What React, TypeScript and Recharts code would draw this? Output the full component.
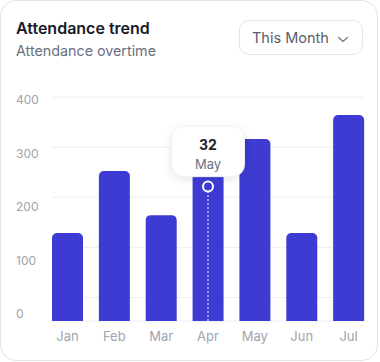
import { Bar, BarChart, CartesianGrid, ReferenceDot, ReferenceLine, XAxis, YAxis } from "recharts";

const months = ["Jan", "Feb", "Mar", "Apr", "May", "Jun", "Jul"];
const attendance = [157, 268, 189, 270, 325, 157, 368];
const yTicks = [0, 100, 200, 300, 400];

// hovered point shown with the tooltip
const activeMonth = "Apr";
const activeLevel = 240;
const tooltipValue = "32";
const tooltipLabel = "May";

const data = months.map((month, i) => ({ month, attendance: attendance[i] }));

const BAR = "#3d3bd1";
const FONT = "Inter, 'Noto Sans', sans-serif";

function YTick({ y, payload }: { y?: number; payload?: { value: number } }) {
  return (
    <text x={16} y={y} dy="0.36em" textAnchor="start" fill="#a0a4ad" fontSize={12} fontFamily={FONT}>
      {payload?.value}
    </text>
  );
}

function Marker({ cx = 0, cy = 0 }: { cx?: number; cy?: number }) {
  return (
    <g>
      <filter id="tipShadow" x="-40%" y="-40%" width="180%" height="180%">
        <feDropShadow dx="0" dy="2" stdDeviation="4" floodColor="#1f2333" floodOpacity="0.10" />
      </filter>
      <circle cx={cx} cy={cy} r={5} fill={BAR} stroke="#fff" strokeWidth={2} />
      <rect
        x={cx - 36.5}
        y={cy - 60}
        width={73}
        height={50}
        rx={12}
        fill="#fff"
        stroke="#f0f1f4"
        filter="url(#tipShadow)"
      />
      <text x={cx} y={cy - 36.3} textAnchor="middle" fontSize={14} fontWeight={700} fill="#1f2230" fontFamily={FONT}>
        {tooltipValue}
      </text>
      <text x={cx} y={cy - 17.7} textAnchor="middle" fontSize={13} fill="#6b7080" fontFamily={FONT}>
        {tooltipLabel}
      </text>
    </g>
  );
}

export default function App() {
  return (
    <div style={{ position: "relative", width: 380, height: 362, fontFamily: FONT }}>
      <style>{`body{margin:0}`}</style>
      <div
        style={{
          position: "absolute",
          left: 0,
          top: 0,
          width: 378,
          height: 361,
          boxSizing: "border-box",
          border: "1px solid #e4e5e9",
          borderRadius: 16,
          background: "#fff",
        }}
      />
      <div
        style={{
          position: "absolute",
          left: 16,
          top: 18,
          fontSize: 16,
          lineHeight: "20px",
          fontWeight: 600,
          color: "#171a26",
        }}
      >
        Attendance trend
      </div>
      <div style={{ position: "absolute", left: 16, top: 41.5, fontSize: 14.3, lineHeight: "18px", color: "#6b7080" }}>
        Attendance overtime
      </div>
      <div
        style={{
          position: "absolute",
          left: 239,
          top: 20,
          width: 124,
          height: 35,
          boxSizing: "border-box",
          border: "1px solid #e4e5e9",
          borderRadius: 10,
          display: "flex",
          alignItems: "center",
          paddingLeft: 12,
          fontSize: 14.5,
          color: "#585d6b",
        }}
      >
        This Month
        <svg width={12} height={8} style={{ position: "absolute", left: 97, top: 15 }}>
          <path d="M1.5 1.5 L6 5.5 L10.5 1.5" fill="none" stroke="#70747f" strokeWidth={1.2} strokeLinecap="round" />
        </svg>
      </div>
      <div style={{ position: "absolute", left: 0, top: 0 }}>
        <BarChart width={380} height={362} data={data} margin={{ top: 97, right: 8, bottom: 0, left: 0 }}>
          <CartesianGrid
            yAxisId="grid"
            vertical={false}
            horizontal={(p: any) => (
              <line key={p.key} x1={p.x1 + 8} x2={p.x2 - 8} y1={p.y1} y2={p.y2} stroke="#eceef2" strokeWidth={1} />
            )}
          />
          <XAxis
            dataKey="month"
            height={41}
            axisLine={false}
            tickLine={false}
            tickMargin={5}
            tick={{ fill: "#a0a4ad", fontSize: 13, fontFamily: FONT }}
          />
          <YAxis
            yAxisId="label"
            width={44}
            domain={[-13.7, 405.6]}
            allowDataOverflow
            ticks={yTicks}
            axisLine={false}
            tickLine={false}
            tick={<YTick />}
          />
          <YAxis yAxisId="grid" hide domain={[-47, 400]} allowDataOverflow ticks={yTicks} />
          <YAxis yAxisId="bar" hide domain={[0, 400]} allowDataOverflow />
          <Bar yAxisId="bar" dataKey="attendance" fill={BAR} barSize={31} radius={[5, 5, 0, 0]} isAnimationActive={false} />
          <ReferenceLine
            yAxisId="bar"
            segment={[
              { x: activeMonth, y: 0 },
              { x: activeMonth, y: activeLevel },
            ]}
            stroke="#fff"
            strokeDasharray="2 2"
          />
          <ReferenceDot yAxisId="bar" x={activeMonth} y={activeLevel} shape={(p: any) => <Marker cx={p.cx} cy={p.cy} />} />
        </BarChart>
      </div>
    </div>
  );
}
